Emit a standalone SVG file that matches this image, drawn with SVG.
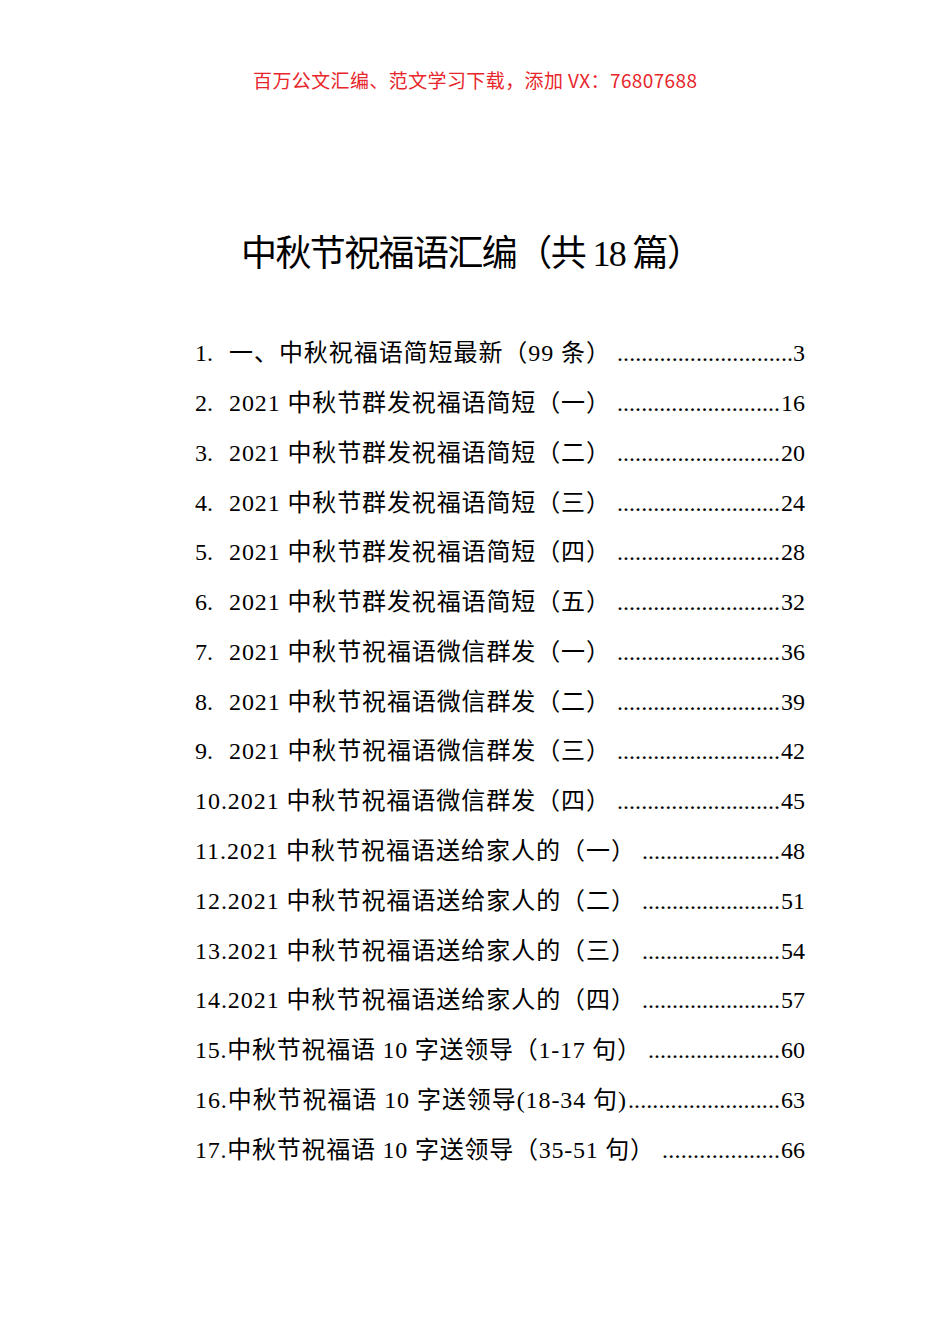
<svg xmlns="http://www.w3.org/2000/svg" width="950" height="1344" viewBox="0 0 950 1344">
<style>
.h{font-family:"Noto Sans CJK SC","Liberation Sans",sans-serif;font-size:19px;fill:#e8262b}
.t{font-family:"Liberation Serif","Noto Sans CJK SC",serif;font-size:36px;fill:#000}
.e{font-family:"Liberation Serif","Noto Sans CJK SC",serif;font-size:24px;fill:#000}
.n{text-anchor:end}
</style>
<rect width="950" height="1344" fill="#fff"/>
<text class="h" x="253" y="88" textLength="444" lengthAdjust="spacing">百万公文汇编、范文学习下载，添加 VX：76807688</text>
<text class="t" x="241" y="266" textLength="462" lengthAdjust="spacing">中秋节祝福语汇编（共 18 篇）</text>
<g id="toc">
<text class="e" x="195" y="361">1.</text><text class="e" x="229" y="361" textLength="381" lengthAdjust="spacing">一、中秋祝福语简短最新（99 条）</text><text class="e" x="617" y="361" textLength="176" lengthAdjust="spacing">.............................</text><text class="e n" x="805" y="361">3</text>
<text class="e" x="195" y="411">2.</text><text class="e" x="229" y="411" textLength="381" lengthAdjust="spacing">2021 中秋节群发祝福语简短（一）</text><text class="e" x="617" y="411" textLength="163" lengthAdjust="spacing">...........................</text><text class="e n" x="805" y="411">16</text>
<text class="e" x="195" y="461">3.</text><text class="e" x="229" y="461" textLength="381" lengthAdjust="spacing">2021 中秋节群发祝福语简短（二）</text><text class="e" x="617" y="461" textLength="163" lengthAdjust="spacing">...........................</text><text class="e n" x="805" y="461">20</text>
<text class="e" x="195" y="511">4.</text><text class="e" x="229" y="511" textLength="381" lengthAdjust="spacing">2021 中秋节群发祝福语简短（三）</text><text class="e" x="617" y="511" textLength="163" lengthAdjust="spacing">...........................</text><text class="e n" x="805" y="511">24</text>
<text class="e" x="195" y="560">5.</text><text class="e" x="229" y="560" textLength="381" lengthAdjust="spacing">2021 中秋节群发祝福语简短（四）</text><text class="e" x="617" y="560" textLength="163" lengthAdjust="spacing">...........................</text><text class="e n" x="805" y="560">28</text>
<text class="e" x="195" y="610">6.</text><text class="e" x="229" y="610" textLength="381" lengthAdjust="spacing">2021 中秋节群发祝福语简短（五）</text><text class="e" x="617" y="610" textLength="163" lengthAdjust="spacing">...........................</text><text class="e n" x="805" y="610">32</text>
<text class="e" x="195" y="660">7.</text><text class="e" x="229" y="660" textLength="381" lengthAdjust="spacing">2021 中秋节祝福语微信群发（一）</text><text class="e" x="617" y="660" textLength="163" lengthAdjust="spacing">...........................</text><text class="e n" x="805" y="660">36</text>
<text class="e" x="195" y="710">8.</text><text class="e" x="229" y="710" textLength="381" lengthAdjust="spacing">2021 中秋节祝福语微信群发（二）</text><text class="e" x="617" y="710" textLength="163" lengthAdjust="spacing">...........................</text><text class="e n" x="805" y="710">39</text>
<text class="e" x="195" y="759">9.</text><text class="e" x="229" y="759" textLength="381" lengthAdjust="spacing">2021 中秋节祝福语微信群发（三）</text><text class="e" x="617" y="759" textLength="163" lengthAdjust="spacing">...........................</text><text class="e n" x="805" y="759">42</text>
<text class="e" x="195" y="809" textLength="415" lengthAdjust="spacing">10.2021 中秋节祝福语微信群发（四）</text><text class="e" x="617" y="809" textLength="163" lengthAdjust="spacing">...........................</text><text class="e n" x="805" y="809">45</text>
<text class="e" x="195" y="859" textLength="440" lengthAdjust="spacing">11.2021 中秋节祝福语送给家人的（一）</text><text class="e" x="642" y="859" textLength="138" lengthAdjust="spacing">.......................</text><text class="e n" x="805" y="859">48</text>
<text class="e" x="195" y="909" textLength="440" lengthAdjust="spacing">12.2021 中秋节祝福语送给家人的（二）</text><text class="e" x="642" y="909" textLength="138" lengthAdjust="spacing">.......................</text><text class="e n" x="805" y="909">51</text>
<text class="e" x="195" y="959" textLength="440" lengthAdjust="spacing">13.2021 中秋节祝福语送给家人的（三）</text><text class="e" x="642" y="959" textLength="138" lengthAdjust="spacing">.......................</text><text class="e n" x="805" y="959">54</text>
<text class="e" x="195" y="1008" textLength="440" lengthAdjust="spacing">14.2021 中秋节祝福语送给家人的（四）</text><text class="e" x="642" y="1008" textLength="138" lengthAdjust="spacing">.......................</text><text class="e n" x="805" y="1008">57</text>
<text class="e" x="195" y="1058" textLength="446" lengthAdjust="spacing">15.中秋节祝福语 10 字送领导（1-17 句）</text><text class="e" x="648" y="1058" textLength="132" lengthAdjust="spacing">......................</text><text class="e n" x="805" y="1058">60</text>
<text class="e" x="195" y="1108" textLength="431" lengthAdjust="spacing">16.中秋节祝福语 10 字送领导(18-34 句)</text><text class="e" x="628" y="1108" textLength="152" lengthAdjust="spacing">.........................</text><text class="e n" x="805" y="1108">63</text>
<text class="e" x="195" y="1158" textLength="459" lengthAdjust="spacing">17.中秋节祝福语 10 字送领导（35-51 句）</text><text class="e" x="662" y="1158" textLength="118" lengthAdjust="spacing">...................</text><text class="e n" x="805" y="1158">66</text>
</g>
</svg>
